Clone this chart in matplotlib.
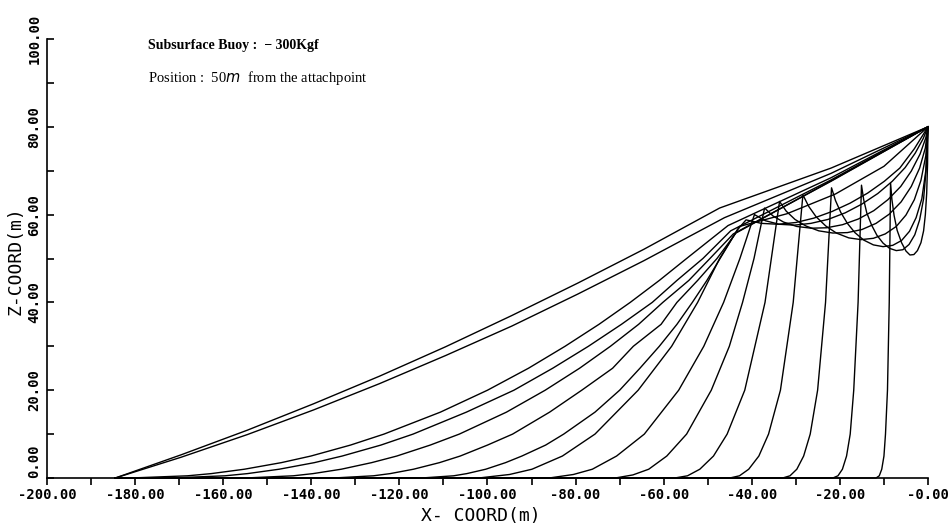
import matplotlib
matplotlib.use("Agg")
import matplotlib.pyplot as plt
import numpy as np

# axis ticks / labels
x_ticks = [-200, -180, -160, -140, -120, -100, -80, -60, -40, -20, 0]
x_tick_labels = ["-200.00", "-180.00", "-160.00", "-140.00", "-120.00", "-100.00",
                 "-80.00", "-60.00", "-40.00", "-20.00", "-0.00"]
z_ticks = [0, 20, 40, 60, 80, 100]
z_tick_labels = ["0.00", "20.00", "40.00", "60.00", "80.00", "100.00"]

anchor_x = -184.5

# lower part of each line: touchdown on the seabed -> buoy
lower_x = [
    [-11.8, -11.06, -10.5, -10.0, -9.65, -9.2, -8.8, -8.5],
    [-21.6, -20.44, -19.43, -18.49, -17.66, -16.86, -15.87, -15.1],
    [-33, -31.33, -29.78, -28.23, -26.74, -25.06, -23.26, -21.9],
    [-45, -42.8, -40.7, -38.4, -36.2, -33.5, -30.6, -28.4],
    [-57.5, -54.6, -51.8, -48.7, -45.6, -41.6, -37, -33.7],
    [-71, -67, -63.4, -59.3, -54.8, -49.2, -45.1, -42.1, -39.5, -37.1],
    [-86, -80.5, -76.2, -70.7, -64.4, -56.6, -50.9, -46.4, -42.7, -39.4],
    [-102, -95, -89.9, -83, -75.6, -65.8, -58.2, -52.3, -47.3, -43.3, -41.3],
    [-115, -107.7, -104.7, -100.4, -95.9, -92.2, -86.8, -82.7, -75.6, -70, -65.4,
     -61, -57, -53.5, -50.2, -47.2, -42.8],
    [-135, -125.9, -122.1, -116.8, -110.9, -106.2, -100, -94.3, -85.9, -78.6, -71.6,
     -66.9, -60.6, -57, -52.3, -47.9, -43.6],
    [-155, -144.1, -139.6, -133.2, -126.3, -120.6, -113, -106.4, -95.7, -86.9, -79.1,
     -72.1, -65.7, -60.2, -54.3, -49.5, -44.2],
    [-172, -159.6, -154.5, -147.3, -139.3, -133, -124.2, -116.9, -104.8, -94, -85.2,
     -77.1, -69.6, -62.6, -57, -51.1, -44.8],
    [-181, -168.1, -162.7, -155.2, -146.8, -140.1, -131.1, -123.5, -110.7, -100, -90.7,
     -82.4, -74.7, -67.6, -61, -54.8, -45.4],
    [-184.5, -169.5, -154.5, -139.5, -124.5, -109.5, -94.5, -79.5, -64.5, -46.2],
    [-184.5, -169.5, -154.5, -139.5, -124.5, -109.5, -94.5, -79.5, -64.5, -47.3],
]
lower_z = [
    [0, 0.5, 2, 5, 10, 20, 40, 67.2],
    [0, 0.5, 2, 5, 10, 20, 40, 66.7],
    [0, 0.5, 2, 5, 10, 20, 40, 66.1],
    [0, 0.5, 2, 5, 10, 20, 40, 64.5],
    [0, 0.5, 2, 5, 10, 20, 40, 63],
    [0, 0.7, 2, 5, 10, 20, 30, 40, 50, 61.5],
    [0, 0.8, 2, 5, 10, 20, 30, 40, 50, 60],
    [0, 0.8, 2, 5, 10, 20, 30, 40, 50, 56.5, 58.8],
    [0, 0.5, 1, 2, 3.5, 5, 7.5, 10, 15, 20, 25, 30, 35, 40, 45, 50, 57.3],
    [0, 0.5, 1, 2, 3.5, 5, 7.5, 10, 15, 20, 25, 30, 35, 40, 45, 50, 55.8],
    [0, 0.5, 1, 2, 3.5, 5, 7.5, 10, 15, 20, 25, 30, 35, 40, 45, 50, 55.6],
    [0, 0.5, 1, 2, 3.5, 5, 7.5, 10, 15, 20, 25, 30, 35, 40, 45, 50, 56.3],
    [0, 0.5, 1, 2, 3.5, 5, 7.5, 10, 15, 20, 25, 30, 35, 40, 45, 50, 57.5],
    [0, 4.75, 9.9, 15.5, 21.5, 27.9, 34.6, 41.9, 49.5, 59.3],
    [0, 5.3, 10.9, 16.9, 23.2, 29.9, 37, 44.4, 52.1, 61.5],
]

# upper part: buoy -> attach point at (0, 80), 50 m of line
upper_x = [
    [-8.5, -8.2, -7.7, -7.0, -6.0, -5.0, -4.1, -3.2, -2.4, -1.6, -1.0, -0.6, -0.3, -0.1, 0],
    [-15.1, -14.6, -13.9, -12.8, -11.6, -10.2, -8.7, -7.2, -5.7, -4.3, -3.0, -1.9, -1.0, -0.4, 0],
    [-21.9, -21.0, -19.8, -18.3, -16.6, -14.6, -12.4, -10.2, -8.0, -6.0, -4.2, -2.7, -1.4, -0.5, 0],
    [-28.4, -27.1, -25.4, -23.2, -20.8, -18.0, -15.2, -12.4, -9.7, -7.2, -5.0, -3.1, -1.6, -0.5, 0],
    [-33.7, -32.2, -30.2, -27.7, -24.8, -21.6, -18.3, -15.0, -11.8, -8.8, -6.1, -3.8, -1.9, -0.6, 0],
    [-37.1, -35.2, -32.8, -29.8, -26.5, -23.0, -19.4, -15.8, -12.3, -9.1, -6.2, -3.8, -1.8, -0.5, 0],
    [-39.4, -36.9, -33.8, -30.3, -26.6, -22.7, -18.8, -15.0, -11.4, -8.1, -5.2, -2.9, -1.1, 0],
    [-41.3, -37.8, -34.0, -30.0, -25.9, -21.8, -17.7, -13.7, -9.9, -6.4, -3.1, 0],
    [-42.8, -32, -21, -10, 0],
    [-43.6, -22, 0],
    [-44.2, -22, 0],
    [-44.8, -22, 0],
    [-45.4, -22, 0],
    [-46.2, -22, 0],
    [-47.3, -22, 0],
]
upper_z = [
    [67.2, 63.5, 59.8, 56.4, 53.6, 51.7, 50.8, 50.9, 51.8, 53.6, 56.3, 60.0, 64.8, 71.5, 80],
    [66.7, 63.4, 60.4, 57.6, 55.3, 53.5, 52.3, 51.8, 52.0, 53.2, 55.4, 58.8, 63.6, 70.5, 80],
    [66.1, 63.2, 60.5, 58.0, 55.9, 54.2, 53.1, 52.7, 53.0, 54.1, 56.2, 59.3, 63.6, 70.0, 80],
    [64.5, 61.9, 59.5, 57.4, 55.8, 54.7, 54.3, 54.6, 55.6, 57.3, 59.9, 63.4, 67.8, 73.4, 80],
    [63.0, 60.8, 58.9, 57.4, 56.3, 55.8, 55.9, 56.6, 58.0, 60.1, 62.9, 66.4, 70.6, 75.2, 80],
    [61.5, 59.7, 58.3, 57.3, 56.9, 57.0, 57.7, 59.0, 60.9, 63.4, 66.4, 69.9, 73.8, 77.5, 80],
    [60.0, 58.6, 57.8, 57.6, 58.0, 58.9, 60.4, 62.4, 64.8, 67.6, 70.7, 74.0, 77.3, 80],
    [58.8, 58.0, 57.8, 58.2, 59.2, 60.7, 62.6, 64.9, 67.6, 70.6, 75.0, 80],
    [57.3, 60.2, 64.7, 71, 80],
    [55.8, 67.7, 80],
    [55.6, 67.6, 80],
    [56.3, 67.9, 80],
    [57.5, 68.4, 80],
    [59.3, 69.4, 80],
    [61.5, 70.6, 80],
]

fig = plt.figure(figsize=(9.53, 5.26), dpi=100)
ax = fig.add_axes([47 / 953, 48 / 526, 881 / 953, 439 / 526])

for lx, lz, ux, uz in zip(lower_x, lower_z, upper_x, upper_z):
    xs = [anchor_x] + lx + ux[1:]
    zs = [0] + lz + uz[1:]
    ax.plot(xs, zs, color="black", lw=1.0, solid_joinstyle="round", clip_on=False)

ax.set_xlim(-200, 0)
ax.set_ylim(0, 100)
ax.spines["top"].set_visible(False)
ax.spines["right"].set_visible(False)
ax.spines["left"].set_linewidth(1.2)
ax.spines["bottom"].set_linewidth(1.2)

ax.set_xticks(np.arange(-200, 1, 10), minor=True)
ax.set_xticks(x_ticks)
ax.set_xticklabels(x_tick_labels, family="DejaVu Sans Mono", fontweight="bold", fontsize=10)
ax.set_yticks(np.arange(0, 101, 10), minor=True)
ax.set_yticks(z_ticks)
ax.set_yticklabels(z_tick_labels, family="DejaVu Sans Mono", fontweight="bold", fontsize=10,
                   rotation=90, va="center")
ax.get_yticklabels()[0].set_va("bottom")
ax.tick_params(axis="x", which="both", direction="out", length=5, width=1.2, pad=2)
ax.tick_params(axis="y", which="both", direction="in", length=5, width=1.2, pad=4)

ax.set_xlabel("X- COORD(m)", family="DejaVu Sans Mono", fontsize=13, va="center")
ax.xaxis.set_label_coords((481 - 47) / 881, (478 - 516) / 439)
ax.set_ylabel("Z-COORD(m)", family="DejaVu Sans Mono", fontsize=13, va="center")
ax.yaxis.set_label_coords((16 - 47) / 881, (478 - 261) / 439)

fig.text(148 / 953, 1 - 45 / 526, "Subsurface Buoy :  \u2212 300Kgf", family="Liberation Serif",
         fontweight="bold", fontsize=10, va="center")
fig.text(148 / 953, 1 - 78 / 526, "Position :  50$\\it{m}$  from the attachpoint",
         family="Liberation Serif", fontsize=10.5, va="center")

fig.savefig("out.png", dpi=100)
